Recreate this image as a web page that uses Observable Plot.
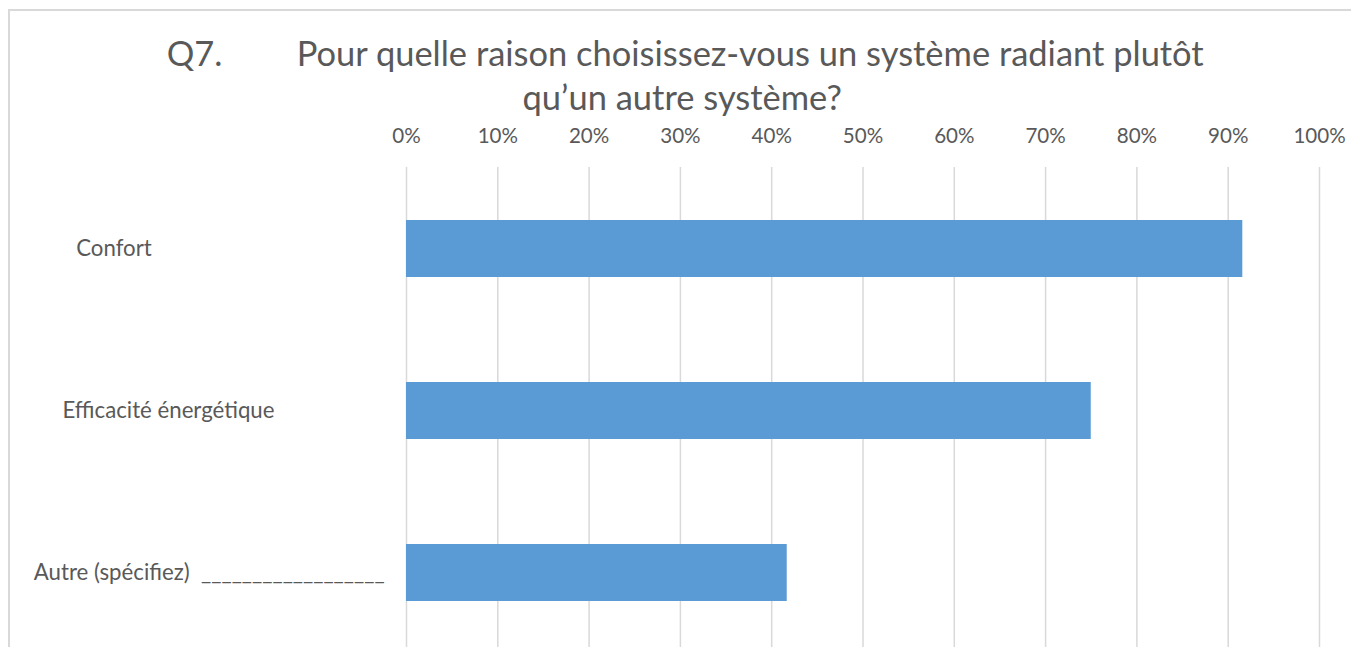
<!DOCTYPE html>
<html>
<head>
<meta charset="utf-8">
<script src="https://cdn.jsdelivr.net/npm/d3@7"></script>
<script src="https://cdn.jsdelivr.net/npm/@observablehq/plot@0.6"></script>
<style>
  html, body { margin: 0; padding: 0; background: #fff; overflow: hidden; }
  #wrap { position: relative; width: 1351px; height: 647px; overflow: hidden; font-family: Lato, "Open Sans", sans-serif; color: #595959; }
  #frame { position: absolute; left: 8px; top: 9px; width: 2000px; height: 2000px; border-top: 2px solid #d9d9d9; border-left: 2px solid #d9d9d9; box-sizing: border-box; }
  #title { position: relative; height: 120px; }
  .t { position: absolute; white-space: pre; line-height: 1; }
  #chart { position: relative; }
  #chart svg text { white-space: pre; }
</style>
</head>
<body>
<div id="wrap">
  <div id="frame"></div>
  <div id="title"></div>
  <div id="chart"></div>
</div>
<script>
// ---- data ----
const titleNumber = "Q7.";
const titleLine1 = "Pour quelle raison choisissez-vous un système radiant plutôt";
const titleLine2 = "qu’un autre système?";
const categories = ["Confort", "Efficacité énergétique", "Autre (spécifiez)  __________________"];
const values = [91.6, 75.0, 41.7];
const xTicks = [0, 10, 20, 30, 40, 50, 60, 70, 80, 90, 100];

// ---- styling helpers ----
const FAMILY = "Lato";
function fitSize(text, target) {
  const ctx = document.createElement("canvas").getContext("2d");
  ctx.font = `100px ${FAMILY}`;
  return 100 * target / ctx.measureText(text).width;
}
const titleFS = fitSize(titleLine1, 908);
const tickFS = fitSize("100%", 52.3);
const labelFS = fitSize("Efficacité énergétique", 212);
const labelStart = [75.7, 62, 33.3];

// ---- title ----
const title = document.getElementById("title");
function addText(txt, left, baseline, fs, center) {
  const d = document.createElement("div");
  d.className = "t";
  d.textContent = txt;
  d.style.fontSize = fs + "px";
  d.style.top = (baseline - 0.887 * fs) + "px";
  if (center) { d.style.left = (left - 1000) + "px"; d.style.width = "2000px"; d.style.textAlign = "center"; }
  else d.style.left = left + "px";
  title.appendChild(d);
}
addText(titleNumber, 166.7, 66.7, titleFS, false);
addText(titleLine1, 296.7, 66.7, titleFS, false);
addText(titleLine2, 682.2, 111, titleFS, true);

// ---- chart ----
const data = categories.map((c, i) => ({category: c, value: values[i]}));
const marginLeft = 406;
const chart = Plot.plot({
  width: 1351,
  height: 533,
  marginTop: 47,
  marginBottom: 0,
  marginLeft,
  marginRight: 32,
  style: {fontFamily: FAMILY, color: "#595959", background: "transparent", overflow: "visible"},
  x: {domain: [0, 100], axis: null, label: null},
  y: {domain: categories, paddingInner: 0.65, paddingOuter: 0.325, axis: null, label: null},
  marks: [
    Plot.gridX(xTicks, {stroke: "#d9d9d9", strokeOpacity: 1, strokeWidth: 1.5}),
    Plot.axisX(xTicks, {anchor: "top", label: null, tickSize: 0, tickPadding: 25, tickFormat: d => d + "%", fontSize: tickFS, fill: "#595959"}),
    Plot.barX(data, {x: "value", y: "category", fill: "#5b9bd5"}),
    ...categories.map((c, i) => Plot.text([c], {
      y: d => d, frameAnchor: "left", textAnchor: "start", lineAnchor: "middle",
      dx: labelStart[i] - marginLeft, fontSize: labelFS, fill: "#595959"
    }))
  ]
});
document.getElementById("chart").appendChild(chart);
</script>
</body>
</html>
